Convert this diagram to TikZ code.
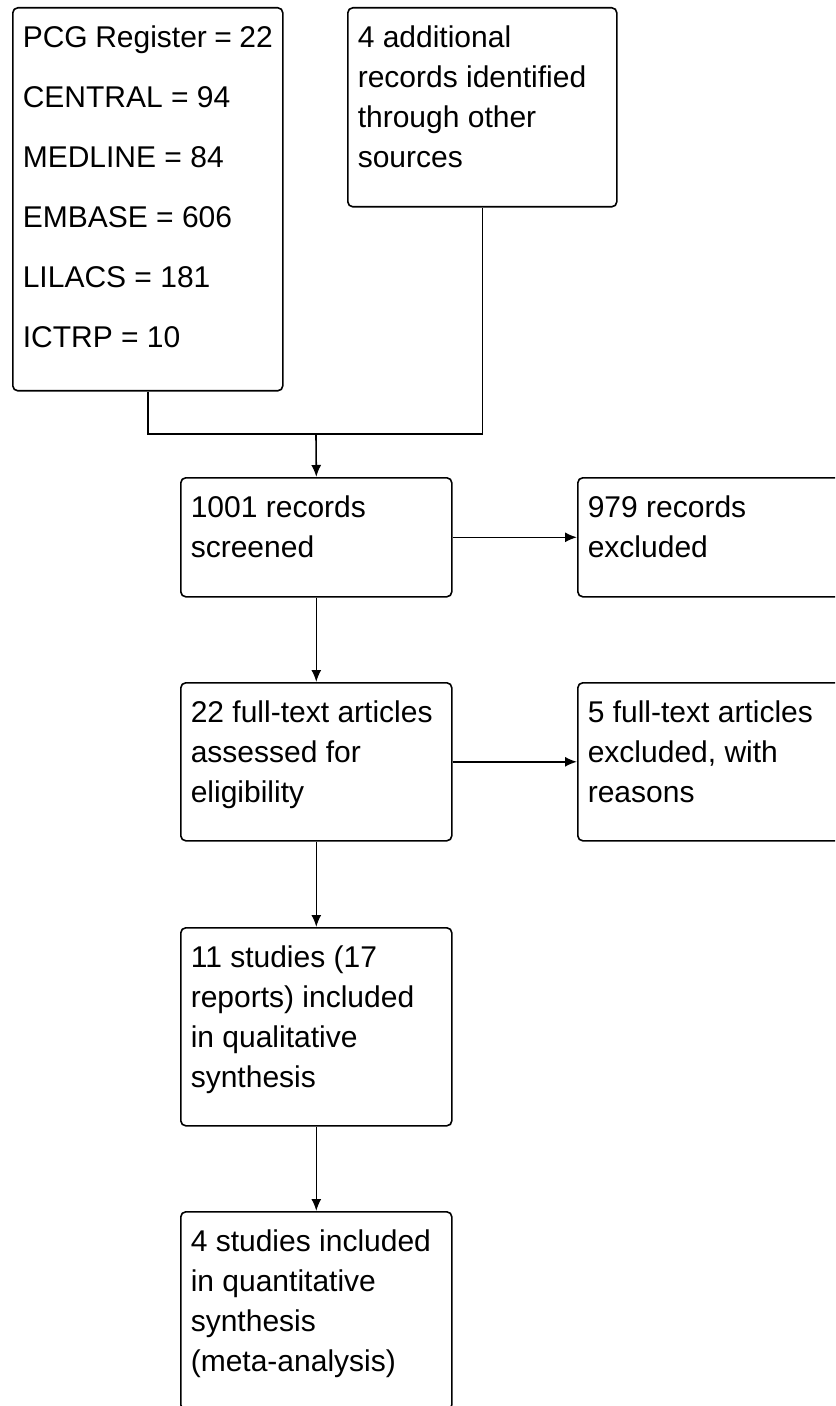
\documentclass[tikz,border=0pt]{standalone}
\usepackage{fontspec}
\setmainfont{Liberation Sans}
\usetikzlibrary{arrows.meta}

\tikzset{
  flowbox/.style 2 args={draw, line width=0.8pt, rounded corners=2.5pt, anchor=north west,
    inner xsep=5pt, inner ysep=0pt,
    execute at begin node={\begin{minipage}[c][#2][t]{#1}\fontsize{15}{20}\selectfont\vspace*{6pt}\strut},
    execute at end node={\end{minipage}}},
  flowline/.style={line width=0.8pt},
  flowarrow/.style={line width=0.8pt, -{Latex[length=6pt,width=5pt]}}
}

\begin{document}
\begin{tikzpicture}[x=0.5pt, y=-0.5pt]
  \useasboundingbox (0,0) rectangle (835,1406);
  \clip (0,0) rectangle (835,1406);

  % sources
  \node[flowbox={125pt}{191.5pt}] (srcdb) at (12,7)
    {\setlength{\baselineskip}{30pt}PCG Register = 22\\CENTRAL = 94\\MEDLINE = 84\\EMBASE = 606\\LILACS = 181\\ICTRP = 10\par};
  \node[flowbox={124.5pt}{99.5pt}] (srcother) at (347,7)
    {4 additional\\records identified\\through other\\sources};

  % screening and eligibility
  \node[flowbox={125.5pt}{59.5pt}] (screen) at (180,477) {1001 records\\screened};
  \node[flowbox={125pt}{59.5pt}] (screenex) at (577,477) {979 records\\excluded};
  \node[flowbox={125.5pt}{79pt}] (fulltext) at (180,682) {22 full-text articles\\assessed for\\eligibility};
  \node[flowbox={125pt}{79pt}] (fullex) at (577,682) {5 full-text articles\\excluded, with\\reasons};

  % included
  \node[flowbox={125.5pt}{99pt}] (quali) at (180,927) {11 studies (17\\reports) included\\in qualitative\\synthesis};
  \node[flowbox={125.5pt}{99pt}] (quanti) at (180,1211) {4 studies included\\in quantitative\\synthesis\\(meta-analysis)};

  \coordinate (join) at (316,434);
  \draw[flowline] (srcdb.south) |- (join) -| (srcother.south);
  \draw[flowarrow] (join) -- (screen.north);
  \draw[flowarrow] (screen) -- (screenex);
  \draw[flowarrow] (screen) -- (fulltext);
  \draw[flowarrow] (fulltext) -- (fullex);
  \draw[flowarrow] (fulltext) -- (quali);
  \draw[flowarrow] (quali) -- (quanti);
\end{tikzpicture}
\end{document}
